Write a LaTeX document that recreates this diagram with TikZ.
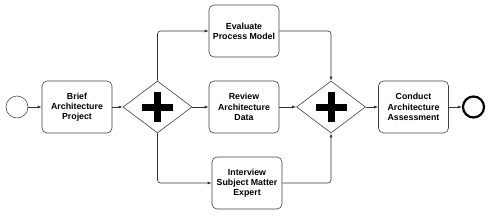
\documentclass[tikz,border=0pt]{standalone}
\usepackage{fontspec}
\setmainfont{Liberation Sans}
\usetikzlibrary{arrows.meta,shapes.geometric}
\begin{document}
\begin{tikzpicture}[x=1pt,y=-1pt,
  task/.style={draw=black!75,line width=0.6pt,rounded corners=5pt,minimum width=70pt,minimum height=52pt,align=center,font=\fontsize{8.8}{10.2}\selectfont\bfseries,inner sep=1pt},
  gate/.style={draw=black!75,line width=0.6pt,diamond,minimum width=69pt,minimum height=52pt,inner sep=0pt,aspect=1.33},
  flow/.style={draw=black!80,line width=0.6pt,-{Latex[length=4pt,width=3pt]},rounded corners=3pt},
  plusbar/.style={fill=black,draw=none}]
\useasboundingbox (0,0) rectangle (497,215);
\node[circle,draw=black!70,line width=0.6pt,minimum size=22pt,inner sep=0pt] (start) at (17,107) {};
\node[task] (brief) at (77,107) {Brief\\Architecture\\Project};
\node[gate] (g1) at (157.5,107) {};
\node[task] (eval) at (244,31) {Evaluate\\Process Model};
\node[task] (review) at (244,107) {Review\\Architecture\\Data};
\node[task] (inter) at (247,183) {Interview\\Subject Matter\\Expert};
\node[gate] (g2) at (331,107) {};
\node[task] (cond) at (413.5,107) {Conduct\\Architecture\\Assessment};
\node[circle,draw=black,line width=2.2pt,minimum size=21pt,inner sep=0pt] (end) at (473.5,107) {};
% plus signs
\fill[plusbar] (142,103.5) rectangle (173,110.5);
\fill[plusbar] (154,92) rectangle (161,122);
\fill[plusbar] (315.5,103.5) rectangle (346.5,110.5);
\fill[plusbar] (327.5,92) rectangle (334.5,122);
% flows
\draw[flow] (start) -- (brief);
\draw[flow] (brief) -- (g1);
\draw[flow] (g1.north) |- (eval.west);
\draw[flow] (g1) -- (review);
\draw[flow] (g1.south) |- (inter.west);
\draw[flow] (eval.east) -| (g2.north);
\draw[flow] (review) -- (g2);
\draw[flow] (inter.east) -| (g2.south);
\draw[flow] (g2) -- (cond);
\draw[flow] (cond) -- (end);
\end{tikzpicture}
\end{document}
